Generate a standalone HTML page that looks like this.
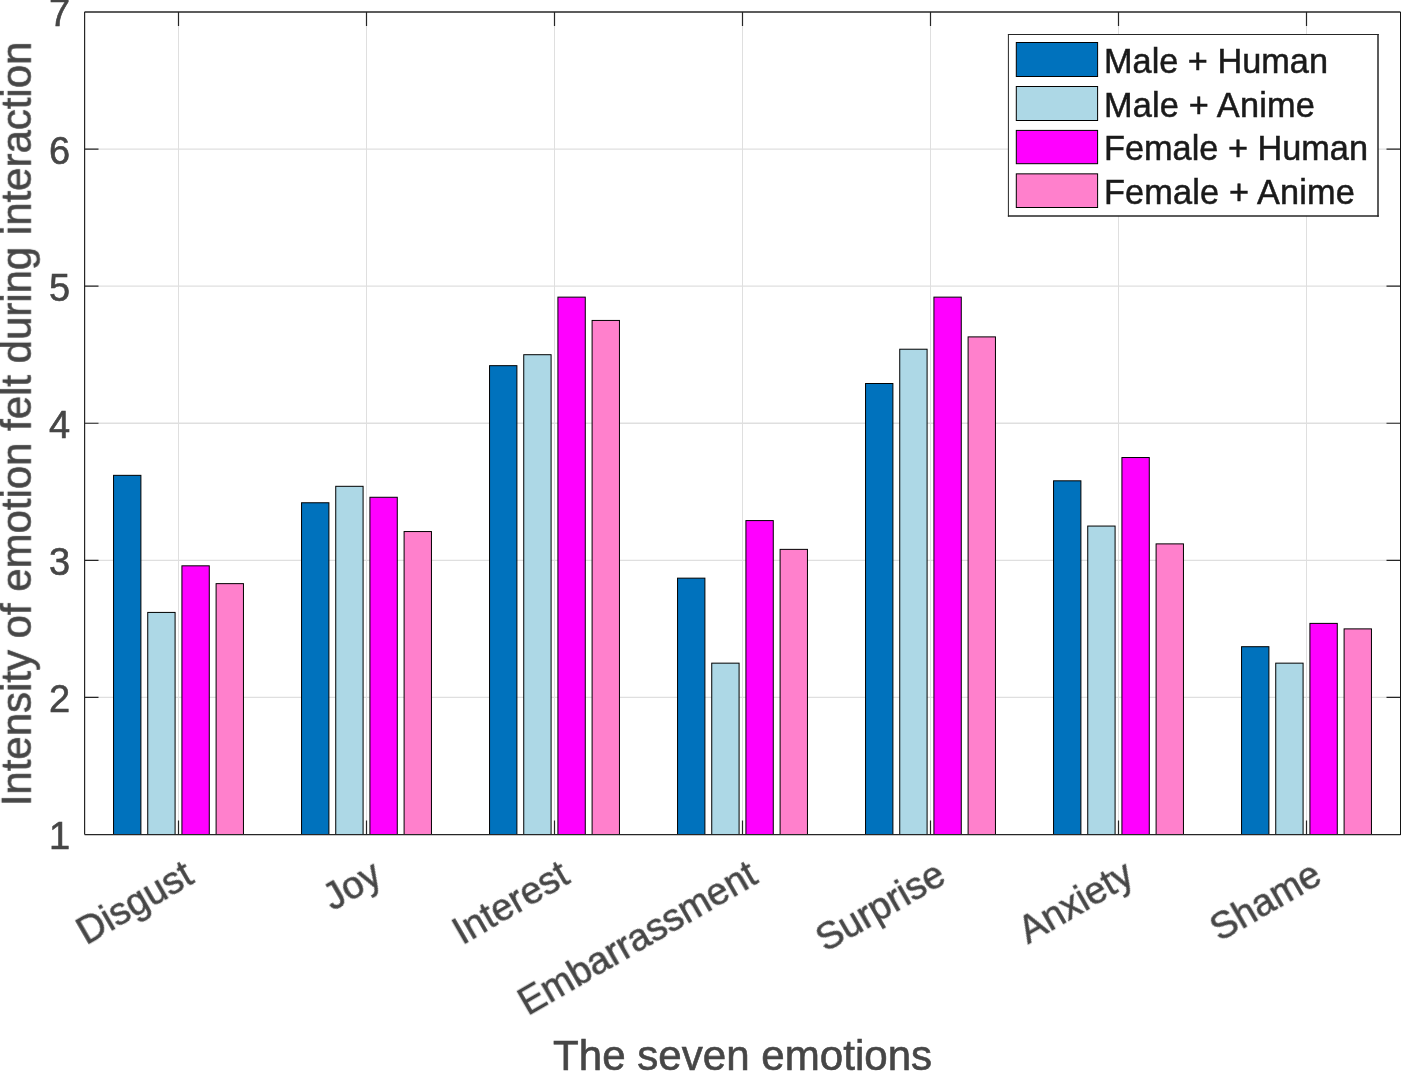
<!DOCTYPE html><html><head><meta charset="utf-8"><title>Bar chart</title><style>html,body{margin:0;padding:0;background:#fff;width:1401px;height:1071px;overflow:hidden}svg{display:block}text{font-family:"Liberation Sans",sans-serif}.t{filter:url(#gs)}</style></head><body>
<svg width="1401" height="1071" viewBox="0 0 1401 1071">
<defs><filter id="gs" x="-5%" y="-5%" width="110%" height="110%"><feColorMatrix type="saturate" values="0"/></filter></defs>
<rect x="0" y="0" width="1401" height="1071" fill="#fff"/>
<path d="M178.50 12.00V834.50M366.50 12.00V834.50M554.50 12.00V834.50M742.50 12.00V834.50M930.50 12.00V834.50M1118.50 12.00V834.50M1306.50 12.00V834.50" stroke="#dfdfdf" stroke-width="1" fill="none"/>
<path d="M84.50 697.42H1400.50M84.50 560.33H1400.50M84.50 423.25H1400.50M84.50 286.17H1400.50M84.50 149.08H1400.50" stroke="#dfdfdf" stroke-width="1.3" fill="none"/>
<rect x="113.55" y="475.34" width="27.35" height="359.16" fill="#0072BD" stroke="#000" stroke-width="1"/>
<rect x="147.74" y="612.42" width="27.35" height="222.08" fill="#ADD8E6" stroke="#000" stroke-width="1"/>
<rect x="181.92" y="565.82" width="27.35" height="268.68" fill="#FF00FF" stroke="#000" stroke-width="1"/>
<rect x="216.10" y="583.64" width="27.35" height="250.86" fill="#FF80CC" stroke="#000" stroke-width="1"/>
<rect x="301.55" y="502.76" width="27.35" height="331.74" fill="#0072BD" stroke="#000" stroke-width="1"/>
<rect x="335.74" y="486.31" width="27.35" height="348.19" fill="#ADD8E6" stroke="#000" stroke-width="1"/>
<rect x="369.92" y="497.27" width="27.35" height="337.23" fill="#FF00FF" stroke="#000" stroke-width="1"/>
<rect x="404.10" y="531.55" width="27.35" height="302.95" fill="#FF80CC" stroke="#000" stroke-width="1"/>
<rect x="489.55" y="365.67" width="27.35" height="468.83" fill="#0072BD" stroke="#000" stroke-width="1"/>
<rect x="523.74" y="354.71" width="27.35" height="479.79" fill="#ADD8E6" stroke="#000" stroke-width="1"/>
<rect x="557.92" y="297.13" width="27.35" height="537.37" fill="#FF00FF" stroke="#000" stroke-width="1"/>
<rect x="592.10" y="320.44" width="27.35" height="514.06" fill="#FF80CC" stroke="#000" stroke-width="1"/>
<rect x="677.55" y="578.15" width="27.35" height="256.35" fill="#0072BD" stroke="#000" stroke-width="1"/>
<rect x="711.74" y="663.15" width="27.35" height="171.35" fill="#ADD8E6" stroke="#000" stroke-width="1"/>
<rect x="745.92" y="520.58" width="27.35" height="313.92" fill="#FF00FF" stroke="#000" stroke-width="1"/>
<rect x="780.10" y="549.37" width="27.35" height="285.13" fill="#FF80CC" stroke="#000" stroke-width="1"/>
<rect x="865.55" y="383.50" width="27.35" height="451.00" fill="#0072BD" stroke="#000" stroke-width="1"/>
<rect x="899.74" y="349.22" width="27.35" height="485.28" fill="#ADD8E6" stroke="#000" stroke-width="1"/>
<rect x="933.92" y="297.13" width="27.35" height="537.37" fill="#FF00FF" stroke="#000" stroke-width="1"/>
<rect x="968.10" y="336.89" width="27.35" height="497.61" fill="#FF80CC" stroke="#000" stroke-width="1"/>
<rect x="1053.55" y="480.82" width="27.35" height="353.68" fill="#0072BD" stroke="#000" stroke-width="1"/>
<rect x="1087.74" y="526.06" width="27.35" height="308.44" fill="#ADD8E6" stroke="#000" stroke-width="1"/>
<rect x="1121.92" y="457.52" width="27.35" height="376.98" fill="#FF00FF" stroke="#000" stroke-width="1"/>
<rect x="1156.10" y="543.88" width="27.35" height="290.62" fill="#FF80CC" stroke="#000" stroke-width="1"/>
<rect x="1241.55" y="646.70" width="27.35" height="187.80" fill="#0072BD" stroke="#000" stroke-width="1"/>
<rect x="1275.74" y="663.15" width="27.35" height="171.35" fill="#ADD8E6" stroke="#000" stroke-width="1"/>
<rect x="1309.92" y="623.39" width="27.35" height="211.11" fill="#FF00FF" stroke="#000" stroke-width="1"/>
<rect x="1344.10" y="628.88" width="27.35" height="205.62" fill="#FF80CC" stroke="#000" stroke-width="1"/>
<path d="M84.6 834.6H1400.5M84.6 12.0V834.6M178.50 834.5v-14.0M178.50 12.0v14.0M366.50 834.5v-14.0M366.50 12.0v14.0M554.50 834.5v-14.0M554.50 12.0v14.0M742.50 834.5v-14.0M742.50 12.0v14.0M930.50 834.5v-14.0M930.50 12.0v14.0M1118.50 834.5v-14.0M1118.50 12.0v14.0M1306.50 834.5v-14.0M1306.50 12.0v14.0M84.5 697.42h14.0M1400.5 697.42h-14.0M84.5 560.33h14.0M1400.5 560.33h-14.0M84.5 423.25h14.0M1400.5 423.25h-14.0M84.5 286.17h14.0M1400.5 286.17h-14.0M84.5 149.08h14.0M1400.5 149.08h-14.0" stroke="#262626" stroke-width="1.2" fill="none"/>
<path d="M84.5 12.0H1400.5" stroke="#262626" stroke-width="1.5" fill="none"/>
<path d="M1400.5 12.0V835.0" stroke="#141414" stroke-width="1" fill="none"/>
<text class="t" x="70.2" y="849.40" text-anchor="end" font-size="38.0" fill="#464646" stroke="#464646" stroke-width="0.6">1</text>
<text class="t" x="70.2" y="712.32" text-anchor="end" font-size="38.0" fill="#464646" stroke="#464646" stroke-width="0.6">2</text>
<text class="t" x="70.2" y="575.23" text-anchor="end" font-size="38.0" fill="#464646" stroke="#464646" stroke-width="0.6">3</text>
<text class="t" x="70.2" y="438.15" text-anchor="end" font-size="38.0" fill="#464646" stroke="#464646" stroke-width="0.6">4</text>
<text class="t" x="70.2" y="301.07" text-anchor="end" font-size="38.0" fill="#464646" stroke="#464646" stroke-width="0.6">5</text>
<text class="t" x="70.2" y="163.98" text-anchor="end" font-size="38.0" fill="#464646" stroke="#464646" stroke-width="0.6">6</text>
<text class="t" x="70.2" y="26.00" text-anchor="end" font-size="38.0" fill="#464646" stroke="#464646" stroke-width="0.6">7</text>
<text class="t" x="196.20" y="882.40" text-anchor="end" font-size="38.0" fill="#464646" stroke="#464646" stroke-width="0.6" transform="rotate(-30 196.20 882.40)">Disgust</text>
<text class="t" x="384.20" y="882.40" text-anchor="end" font-size="38.0" fill="#464646" stroke="#464646" stroke-width="0.6" transform="rotate(-30 384.20 882.40)">Joy</text>
<text class="t" x="572.20" y="882.40" text-anchor="end" font-size="38.0" fill="#464646" stroke="#464646" stroke-width="0.6" transform="rotate(-30 572.20 882.40)">Interest</text>
<text class="t" x="760.20" y="882.40" text-anchor="end" font-size="38.0" fill="#464646" stroke="#464646" stroke-width="0.6" transform="rotate(-30 760.20 882.40)">Embarrassment</text>
<text class="t" x="948.20" y="882.40" text-anchor="end" font-size="38.0" fill="#464646" stroke="#464646" stroke-width="0.6" transform="rotate(-30 948.20 882.40)">Surprise</text>
<text class="t" x="1136.20" y="882.40" text-anchor="end" font-size="38.0" fill="#464646" stroke="#464646" stroke-width="0.6" transform="rotate(-30 1136.20 882.40)">Anxiety</text>
<text class="t" x="1324.20" y="882.40" text-anchor="end" font-size="38.0" fill="#464646" stroke="#464646" stroke-width="0.6" transform="rotate(-30 1324.20 882.40)">Shame</text>
<text class="t" x="742.6" y="1069.5" text-anchor="middle" font-size="42.1" fill="#464646" stroke="#464646" stroke-width="0.6">The seven emotions</text>
<text class="t" x="0" y="0" text-anchor="middle" font-size="41.95" fill="#464646" stroke="#464646" stroke-width="0.6" transform="translate(30.8 423.9) rotate(-90)">Intensity of emotion felt during interaction</text>
<rect x="1008.3" y="34.5" width="369.7" height="181.4" fill="#fff"/>
<path d="M1007.9 34.5H1378.75" stroke="#262626" stroke-width="1.1" fill="none"/>
<path d="M1008.4 34.5V216.65" stroke="#262626" stroke-width="1" fill="none"/>
<path d="M1378 34V216.65" stroke="#262626" stroke-width="1.5" fill="none"/>
<path d="M1007.9 215.9H1378.75" stroke="#262626" stroke-width="1.5" fill="none"/>
<rect x="1016.3" y="42.50" width="81.3" height="34.00" fill="#0072BD" stroke="#000" stroke-width="1"/>
<text class="t" x="1104" y="72.60" font-size="34.3" fill="#1a1a1a" stroke="#1a1a1a" stroke-width="0.5">Male + Human</text>
<rect x="1016.3" y="86.50" width="81.3" height="34.00" fill="#ADD8E6" stroke="#000" stroke-width="1"/>
<text class="t" x="1104" y="117.00" font-size="34.3" fill="#1a1a1a" stroke="#1a1a1a" stroke-width="0.5" textLength="210.8" lengthAdjust="spacing">Male + Anime</text>
<rect x="1016.3" y="130.40" width="81.3" height="33.30" fill="#FF00FF" stroke="#000" stroke-width="1"/>
<text class="t" x="1104" y="160.10" font-size="34.3" fill="#1a1a1a" stroke="#1a1a1a" stroke-width="0.5">Female + Human</text>
<rect x="1016.3" y="173.85" width="81.3" height="33.65" fill="#FF80CC" stroke="#000" stroke-width="1"/>
<text class="t" x="1104" y="203.90" font-size="34.3" fill="#1a1a1a" stroke="#1a1a1a" stroke-width="0.5" textLength="250.8" lengthAdjust="spacing">Female + Anime</text>
</svg></body></html>
